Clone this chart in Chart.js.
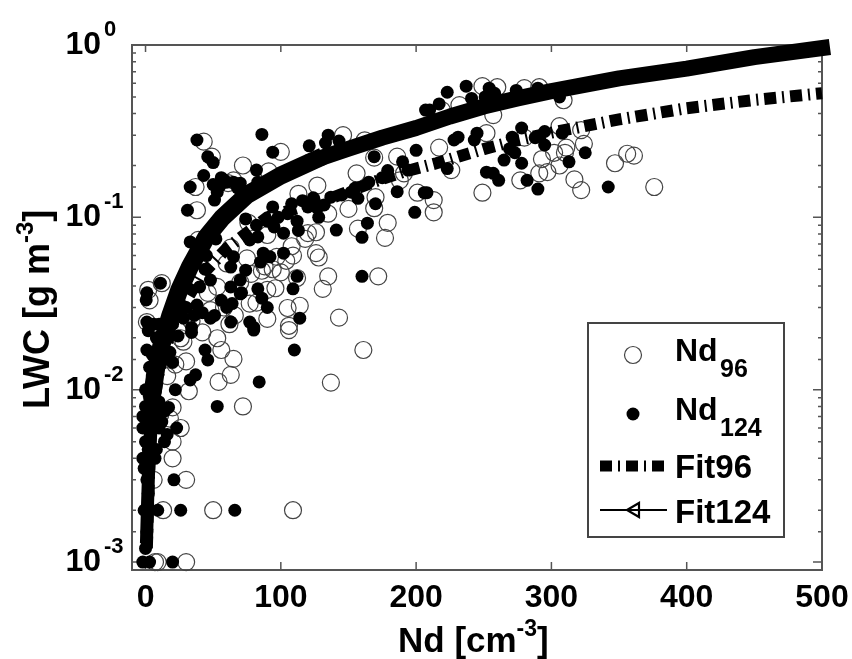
<!DOCTYPE html>
<html>
<head>
<meta charset="utf-8">
<style>html,body{margin:0;padding:0;background:#fff}canvas{display:block}</style>
<script src="https://cdn.jsdelivr.net/npm/chart.js@4/dist/chart.umd.min.js"></script>
</head>
<body>
<canvas id="c" width="852" height="659"></canvas>
<script>
const xTicks = [0,100,200,300,400,500];
const yPowers = [-3,-2,-1,0];
const labels = ["Nd","96","124","Fit96","Fit124"];

const nd96X = [43,49,72,91,100,146,162,169,156,186,188,201,170,169,179,177,157,126,120,126,128,109,97,86,90,76,38,37,39,65,61,135,131,172,112,96,90,77,105,114,143,106,90,12,2,3,1,127,113,60,63,46,53,75,191,
161,137,72,109,50,13,30,20,20,26,20,18,32,54,63,65,56,53,30,42,106,30,9,7,6,26,11,
249,260,280,291,232,219,309,257,252,217,226,213,213,249,277,293,291,297,306,280,302,311,310,324,306,322,317,322,347,356,361,376,
58,66,82,88,100,108,118,135,150,70,78,104,94,62,48,34,28,22,16];
const nd96Y = [.275,.225,.2,.185,.24,.3,.28,.222,.18,.225,.164,.139,.131,.113,.093,.076,.086,.082,.081,.062,.0585,.06,.059,.049,.079,.093,.11,.15,.074,.164,.158,.0455,.0385,.0455,.0445,.0388,.038,.0316,.0298,.0307,.0262,.0235,.0258,.0415,.038,.033,.0247,.153,.137,.054,.0667,.0365,.0395,.0578,.18,
.017,.011,.008,.002,.002,.002,.003,.004,.005,.006,.0079,.0068,.0098,.0111,.0122,.0151,.017,.0199,.0146,.0215,.0222,.001,.001,.001,.003,.0199,.0072,
.577,.569,.562,.569,.448,.419,.478,.392,.308,.254,.188,.126,.107,.139,.164,.218,.18,.183,.338,.29,.237,.254,.237,.267,.2,.321,.166,.144,.206,.234,.228,.15,
.03,.027,.032,.052,.048,.068,.075,.105,.112,.042,.047,.056,.05,.024,.029,.025,.019,.014,.012];

const nd124X = [38,46,50,43,33,31,33,86,94,82,83,121,135,133,143,55,60,65,70,53,51,75,53,141,160,164,157,170,155,165,179,175,186,190,194,200,199,206,207,169,102,83,77,87,92,102,85,113,120,127,137,105,94,65,63,74,70,112,109,160,83,71,63,48,40,64,90,38,51,63,77,114,11,1,0.5,1,34,80,
110,84,53,66,26,9,21,23,17,14,7,22,33,37,46,44,20,1,34,24,20,-2,3,80,0,-2,-2,-2,1,11,
223,237,210,217,241,254,251,258,274,290,306,231,228,245,243,278,271,269,273,265,278,288,295,295,308,325,313,223,252,257,261,282,290,342,208,
0,1,-1,2,-1,2,0,3,0,3,5,3,5,8,10,14,12,16,8,10,2,6,10,14,20,28,18,24,
108,116,124,132,145,152,128,112,98,90,44,50,58,68,56,74,82,95,30,36,42,48,56,60,70,86,45,40,52];
const nd124Y = [.281,.225,.208,.175,.15,.11,.072,.303,.239,.188,.16,.26,.3,.27,.277,.152,.16,.16,.158,.14,.126,.136,.094,.0844,.0766,.0925,.129,.12,.148,.16,.187,.17,.141,.21,.188,.245,.107,.139,.419,.225,.081,.077,.074,.062,.059,.062,.055,.084,.115,.113,.131,.105,.115,.059,.0515,.0494,.0433,.0455,.0385,.0455,.0385,.0365,.0395,.0433,.0395,.0316,.03,.031,.027,.0247,.0247,.026,.0415,.0365,.0332,.0247,.023,.023,
.017,.0111,.008,.002,.002,.002,.003,.006,.0079,.005,.004,.01,.0114,.0122,.0149,.017,.0144,.017,.0215,.0205,.001,.001,.001,.0222,.01,.007,.006,.004,.003,.0073,
.532,.577,.419,.455,.49,.562,.5,.525,.545,.562,.5,.292,.281,.308,.281,.33,.292,.25,.237,.215,.206,.29,.315,.263,.308,.237,.21,.192,.183,.18,.164,.164,.146,.15,.139,
.0012,.0015,.002,.0025,.0035,.0045,.005,.006,.008,.009,.012,.0135,.016,.02,.0085,.0075,.0065,.0055,.0045,.006,.022,.024,.024,.023,.024,.026,.0165,.0285,
.12,.125,.13,.118,.135,.14,.1,.095,.1,.095,.05,.155,.165,.148,.17,.098,.09,.088,.03,.027,.028,.026,.033,.03,.036,.034,.06,.07,.075];

const fit96X = [1,2,3,5,10,20,40,60,90,115,139,170,190,215,250,275,300,350,400,450,500];
const fit96Y = [.0012,.0024,.0038,.0072,.013,.024,.045,.066,.1,.115,.131,.162,.183,.206,.249,.28,.31,.37,.43,.48,.525];

const fit124X = [0.8,1.5,2.5,4,5.5,8,12,18,25,33,45,57,75,100,125,150,175,200,225,250,275,300,350,400,450,500];
const fit124Y = [.0014,.0022,.0038,.0065,.01,.0135,.0185,.0265,.038,.052,.077,.1,.135,.175,.215,.25,.29,.33,.385,.44,.49,.54,.64,.73,.85,.96];

const zip = (xs, ys) => xs.map((x, i) => ({x, y: ys[i]}));
const FONT = '"Liberation Sans", Arial, sans-serif';
const INK = '#000', AXIS = '#555';

function txt(ctx, s, x, y, size, align) {
  ctx.font = `bold ${size}px ${FONT}`;
  ctx.textAlign = align || 'left';
  ctx.textBaseline = 'alphabetic';
  ctx.fillStyle = INK;
  ctx.fillText(s, x, y);
  return ctx.measureText(s).width;
}

const decor = {
  id: 'decor',
  beforeDatasetsDraw(chart) {
    const {ctx, chartArea: a, scales: {x, y}} = chart;
    ctx.save();
    ctx.strokeStyle = AXIS; ctx.lineWidth = 2;
    ctx.strokeRect(a.left, a.top, a.right - a.left, a.bottom - a.top);
    ctx.lineWidth = 1.5; ctx.beginPath();
    xTicks.forEach(v => {
      const p = x.getPixelForValue(v);
      ctx.moveTo(p, a.bottom); ctx.lineTo(p, a.bottom - 8);
      ctx.moveTo(p, a.top); ctx.lineTo(p, a.top + 7);
    });
    y.ticks.forEach(t => {
      const p = y.getPixelForValue(t.value);
      if (p >= a.bottom - 1 || p <= a.top + 1) return;
      const lg = Math.log10(t.value), major = Math.abs(lg - Math.round(lg)) < 1e-6;
      const len = major ? 9 : 4;
      ctx.moveTo(a.left, p); ctx.lineTo(a.left + len, p);
      ctx.moveTo(a.right, p); ctx.lineTo(a.right - len, p);
    });
    ctx.stroke();
    ctx.restore();
  },
  afterDraw(chart) {
    const {ctx, scales: {y}} = chart;
    ctx.save();
    yPowers.forEach(e => {
      txt(ctx, String(e), 104, y.getPixelForValue(Math.pow(10, e)) - 9, 22);
    });
    let cx = 398;
    cx += txt(ctx, 'Nd [cm', cx, 652, 35);
    cx += txt(ctx, '-3', cx, 636, 23);
    txt(ctx, ']', cx, 652, 35);
    ctx.save();
    ctx.translate(49, 409); ctx.rotate(-Math.PI / 2);
    cx = 0;
    cx += txt(ctx, 'LWC [g m', cx, 0, 36);
    cx += txt(ctx, '-3', cx, -16, 24);
    txt(ctx, ']', cx, 0, 36);
    ctx.restore();
    ctx.fillStyle = '#fff'; ctx.strokeStyle = '#444'; ctx.lineWidth = 2;
    ctx.fillRect(588, 323, 196, 214); ctx.strokeRect(588, 323, 196, 214);
    ctx.lineWidth = 1.2; ctx.strokeStyle = '#444';
    ctx.beginPath(); ctx.arc(633, 355, 8.5, 0, 7); ctx.stroke();
    ctx.fillStyle = INK;
    ctx.beginPath(); ctx.arc(633, 414, 6.5, 0, 7); ctx.fill();
    txt(ctx, labels[0], 675, 361, 32); txt(ctx, labels[1], 720, 377, 25);
    txt(ctx, labels[0], 675, 420, 32); txt(ctx, labels[2], 720, 436, 25);
    txt(ctx, labels[3], 675, 478, 33);
    txt(ctx, labels[4], 675, 523, 33);
    ctx.strokeStyle = INK; ctx.lineWidth = 11; ctx.setLineDash([12, 6, 2, 6]);
    ctx.beginPath(); ctx.moveTo(600, 466); ctx.lineTo(667, 466); ctx.stroke();
    ctx.setLineDash([]); ctx.lineWidth = 2.2;
    ctx.beginPath(); ctx.moveTo(600, 510); ctx.lineTo(667, 510); ctx.stroke();
    ctx.beginPath(); ctx.moveTo(627, 510); ctx.lineTo(639, 503); ctx.lineTo(639, 517); ctx.closePath(); ctx.stroke();
    ctx.restore();
  }
};

new Chart(document.getElementById('c'), {
  type: 'scatter',
  plugins: [decor],
  data: { datasets: [
    {label: 'Nd96', order: 4, data: zip(nd96X, nd96Y), pointRadius: 8.5, pointBorderWidth: 1.2, pointBorderColor: '#444', pointBackgroundColor: 'rgba(255,255,255,0)', clip: false},
    {label: 'Nd124', order: 3, data: zip(nd124X, nd124Y), pointRadius: 6.5, pointBorderWidth: 0, pointBackgroundColor: INK, clip: false},
    {label: 'Fit96', order: 2, data: zip(fit96X, fit96Y), showLine: true, pointRadius: 0, borderColor: INK, borderWidth: 12, borderDash: [12, 6, 2, 6], clip: false},
    {label: 'Fit124', order: 1, data: zip(fit124X, fit124Y), showLine: true, pointRadius: 0, borderColor: INK, borderWidth: 16, borderJoinStyle: 'round', borderCapStyle: 'square', clip: false,
      segment: {borderWidth: c => c.p0DataIndex < 4 ? 13 : (c.p0DataIndex < 14 ? 18 : 16)}}
  ]},
  options: {
    responsive: false, animation: false,
    layout: {padding: {left: 0, top: 45, right: 30, bottom: 0}},
    plugins: {legend: {display: false}, tooltip: {enabled: false}},
    scales: {
      x: {
        type: 'linear', min: -10, max: 500,
        afterFit: s => { s.height = 89; s.paddingLeft = 0; s.paddingRight = 0; },
        afterBuildTicks: s => { s.ticks = xTicks.map(value => ({value})); },
        grid: {display: false, drawTicks: false},
        border: {display: false},
        ticks: {padding: 9, maxRotation: 0, color: INK, font: {family: FONT, weight: 'bold', size: 32}}
      },
      y: {
        type: 'logarithmic', min: 0.0009, max: 1,
        afterFit: s => { s.width = 132; s.paddingTop = 0; s.paddingBottom = 0; },
        grid: {display: false, drawTicks: false},
        border: {display: false},
        ticks: {
          autoSkip: false, padding: 31, color: INK, font: {family: FONT, weight: 'bold', size: 32},
          callback: v => { const l = Math.log10(v); return Math.abs(l - Math.round(l)) < 1e-6 ? '10' : ''; }
        }
      }
    }
  },
});
</script>
</body>
</html>
